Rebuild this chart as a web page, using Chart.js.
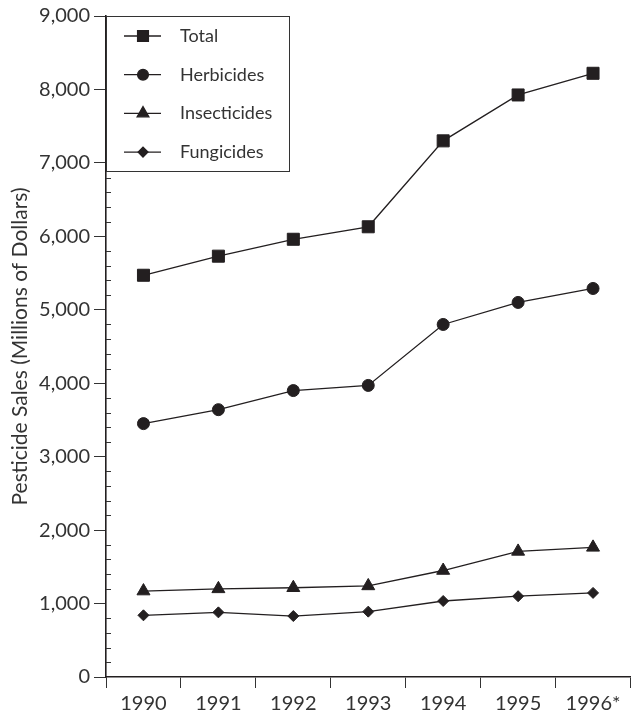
<!DOCTYPE html>
<html>
<head>
<meta charset="utf-8">
<script src="https://cdn.jsdelivr.net/npm/chart.js@4.4.0/dist/chart.umd.min.js"></script>
<style>
  html, body { margin: 0; padding: 0; background: #fff; overflow: hidden; }
  #wrap { width: 640px; height: 719px; position: relative; }
</style>
</head>
<body>
<div id="wrap"><canvas id="chart"></canvas></div>
<script>
// values (millions of dollars)
const years = ["1990", "1991", "1992", "1993", "1994", "1995", "1996*"];
const total = [5470, 5730, 5960, 6130, 7300, 7925, 8220];
const herbicides = [3450, 3640, 3900, 3970, 4800, 5100, 5290];
const insecticides = [1170, 1200, 1215, 1240, 1450, 1710, 1765];
const fungicides = [840, 880, 830, 890, 1035, 1100, 1145];

const seriesNames = ["Total", "Herbicides", "Insecticides", "Fungicides"];
const yMax = 9000;
const yStep = 1000;
const minorStep = 200;

const ink = "#231f20";
const textColor = "#333";
const fontFamily = "Lato, 'Open Sans', sans-serif";

function series(label, data, style, radius) {
  return {
    label: label,
    data: data,
    borderColor: ink,
    borderWidth: 1.3,
    backgroundColor: ink,
    pointStyle: style,
    pointRadius: radius,
    pointHoverRadius: radius,
    pointBackgroundColor: ink,
    pointBorderColor: ink,
    pointBorderWidth: 1,
    tension: 0,
  };
}

// small inward ticks on the y axis
const minorTicks = {
  id: "minorTicks",
  afterDraw(chart) {
    const ctx = chart.ctx;
    const y = chart.scales.y;
    const left = chart.chartArea.left;
    ctx.save();
    ctx.strokeStyle = textColor;
    ctx.lineWidth = 1;
    for (let v = minorStep; v < yMax; v += minorStep) {
      if (v % yStep === 0) continue;
      const py = Math.round(y.getPixelForValue(v)) + 0.5;
      ctx.beginPath();
      ctx.moveTo(left, py);
      ctx.lineTo(left + 5, py);
      ctx.stroke();
    }
    ctx.restore();
  },
};

// boxed legend in the top-left corner of the plot
const boxLegend = {
  id: "boxLegend",
  afterDraw(chart) {
    const ctx = chart.ctx;
    const a = chart.chartArea;
    const bx = a.left, by = a.top, bw = 183, bh = 155;
    ctx.save();
    ctx.fillStyle = "#fff";
    ctx.fillRect(bx, by, bw, bh);
    ctx.strokeStyle = textColor;
    ctx.lineWidth = 1;
    ctx.strokeRect(bx + 0.5, by + 0.5, bw, bh);

    chart.data.datasets.forEach((ds, i) => {
      const cy = by + 20 + i * 38.7;
      ctx.strokeStyle = ink;
      ctx.lineWidth = 1.3;
      ctx.beginPath();
      ctx.moveTo(bx + 18, cy);
      ctx.lineTo(bx + 55, cy);
      ctx.stroke();
      ctx.fillStyle = ink;
      Chart.helpers.drawPoint(ctx, {
        pointStyle: ds.pointStyle,
        rotation: 0,
        borderWidth: 1,
        radius: ds.pointRadius * 0.9,
      }, bx + 37, cy);
      ctx.fillStyle = textColor;
      ctx.font = "18px " + fontFamily;
      ctx.textAlign = "left";
      ctx.textBaseline = "middle";
      ctx.fillText(ds.label, bx + 74, cy);
    });
    ctx.restore();
  },
};

new Chart(document.getElementById("chart"), {
  type: "line",
  data: {
    labels: years,
    datasets: [
      series(seriesNames[0], total, "rect", 8.5),
      series(seriesNames[1], herbicides, "circle", 6),
      series(seriesNames[2], insecticides, "triangle", 7.5),
      series(seriesNames[3], fungicides, "rectRot", 5.5),
    ],
  },
  options: {
    responsive: true,
    maintainAspectRatio: false,
    animation: false,
    events: [],
    layout: { padding: { top: 16, right: 6, bottom: 0, left: 0 } },
    plugins: {
      legend: { display: false },
      tooltip: { enabled: false },
    },
    scales: {
      x: {
        type: "category",
        offset: true,
        grid: {
          offset: true,
          drawOnChartArea: false,
          tickLength: 11,
          tickColor: textColor,
          tickWidth: 1,
        },
        border: { display: true, color: ink, width: 1.6 },
        ticks: {
          color: textColor,
          font: { family: fontFamily, size: 20 },
          padding: 4,
          maxRotation: 0,
          autoSkip: false,
        },
        afterFit(scale) { scale.height = 42; },
      },
      y: {
        min: 0,
        max: yMax,
        grid: {
          drawOnChartArea: false,
          tickLength: 12,
          tickColor: textColor,
          tickWidth: 1,
        },
        border: { display: true, color: ink, width: 1.6 },
        ticks: {
          stepSize: yStep,
          color: textColor,
          font: { family: fontFamily, size: 20 },
          padding: 4,
          callback: (v) => v.toLocaleString("en-US"),
        },
        title: {
          display: true,
          text: "Pesticide Sales (Millions of Dollars)",
          color: textColor,
          font: { family: fontFamily, size: 21 },
          padding: { top: 8, bottom: 0 },
        },
        afterFit(scale) { scale.width = 106; },
      },
    },
  },
  plugins: [minorTicks, boxLegend],
});
</script>
</body>
</html>
